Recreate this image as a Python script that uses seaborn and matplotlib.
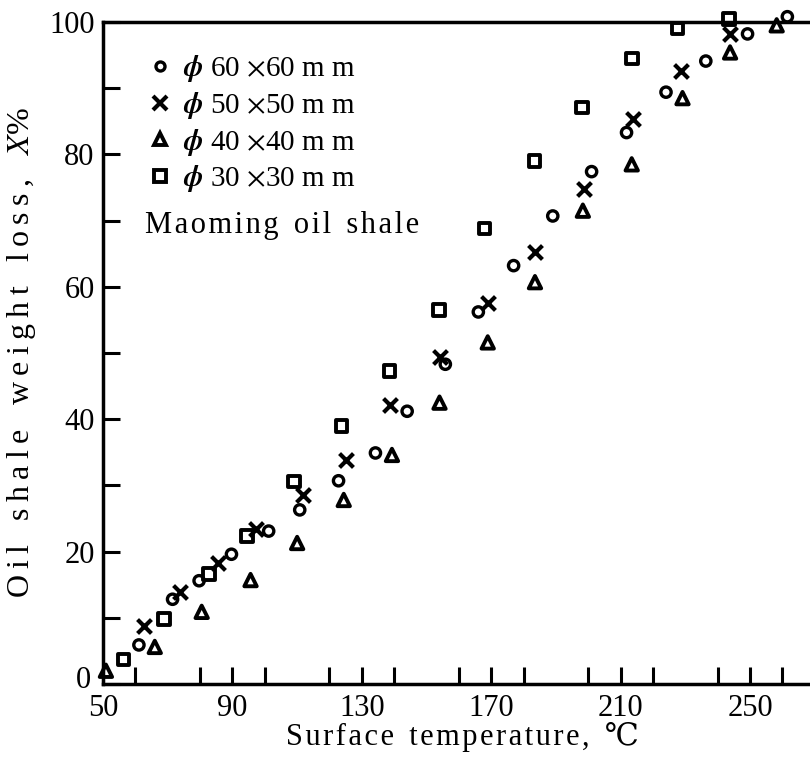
import numpy as np
import pandas as pd
import matplotlib
matplotlib.use("Agg")
import matplotlib.pyplot as plt
import matplotlib.transforms as mtrans
import seaborn as sns
from matplotlib.lines import Line2D
from matplotlib.ticker import MultipleLocator

# ---- data ----
x_60 = [61.1, 71.5, 79.7, 89.7, 101.2, 110.8, 122.8, 134.2, 144.0, 155.8, 166.0, 176.9, 189.0, 201.0, 211.8, 224.0, 236.3, 249.2, 261.5]
y_60 = [5.9, 12.8, 15.6, 19.6, 23.1, 26.3, 30.7, 34.9, 41.2, 48.3, 56.2, 63.2, 70.7, 77.4, 83.3, 89.4, 94.1, 98.2, 100.8]

x_50 = [62.7, 73.8, 85.6, 97.4, 111.8, 125.2, 138.6, 154.0, 168.9, 183.5, 198.5, 213.7, 228.6, 243.8]
y_50 = [8.8, 13.9, 18.3, 23.4, 28.6, 33.9, 42.1, 49.4, 57.5, 65.3, 74.7, 85.4, 92.6, 98.2]

x_40 = [50.9, 66.0, 80.5, 95.6, 110.0, 124.4, 139.3, 154.0, 168.9, 183.5, 198.3, 213.4, 229.1, 243.8, 258.2]
y_40 = [2.0, 5.6, 10.9, 15.7, 21.3, 27.8, 34.6, 42.5, 51.6, 60.7, 71.5, 78.5, 88.5, 95.4, 99.5]

x_30 = [56.3, 68.8, 82.8, 94.5, 109.0, 123.7, 138.6, 153.8, 167.9, 183.3, 198.0, 213.4, 227.6, 243.5]
y_30 = [3.7, 9.8, 16.6, 22.4, 30.6, 39.0, 47.3, 56.5, 68.8, 79.0, 87.1, 94.5, 99.0, 100.5]

series_labels = ["60", "50", "40", "30"]
x_ticks = [50, 90, 130, 170, 210, 250]
y_ticks = [0, 20, 40, 60, 80, 100]

sns.set_theme(style="ticks")
plt.rcParams["font.family"] = ["Liberation Serif", "DejaVu Serif"]
plt.rcParams["mathtext.fontset"] = "stix"
plt.rcParams["text.color"] = "black"
plt.rcParams["axes.labelcolor"] = "black"
plt.rcParams["xtick.color"] = "black"
plt.rcParams["ytick.color"] = "black"

fig = plt.figure(figsize=(8.10, 7.58), dpi=100)
ax = fig.add_axes([103 / 810, 1 - 684 / 758, 707 / 810, 662 / 758])

common = dict(ax=ax, clip_on=False, legend=False, zorder=5)
sns.scatterplot(x=x_60, y=y_60, marker="o", s=55, facecolor="none",
                edgecolor="black", linewidth=2.4, **common)
sns.scatterplot(x=x_50, y=y_50, marker="x", s=100, color="black",
                linewidth=3.0, **common)
sns.scatterplot(x=x_40, y=y_40, marker="^", s=80, facecolor="none",
                edgecolor="black", linewidth=2.8, **common)
sns.scatterplot(x=x_30, y=y_30, marker="s", s=70, facecolor="none",
                edgecolor="black", linewidth=2.8, **common)

ax.set_xlim(50, 268.5)
ax.set_ylim(0, 100)
ax.set_xticks(x_ticks)
ax.set_yticks(y_ticks)
ax.xaxis.set_minor_locator(MultipleLocator(20))
ax.yaxis.set_minor_locator(MultipleLocator(10))
ax.tick_params(which="both", direction="in", length=12, width=2.2,
               labelsize=22, color="black", labelcolor="black")
ax.tick_params(axis="x", pad=7)
ax.tick_params(axis="y", pad=6)
for side in ["left", "bottom", "top"]:
    ax.spines[side].set_linewidth(2.5)
    ax.spines[side].set_color("black")
ax.spines["right"].set_visible(False)

# nudge the "0" y tick label up/left so it clears the "50" x tick label
zero_lab = ax.get_yticklabels()[0]
zero_lab.set_transform(zero_lab.get_transform() +
                       mtrans.ScaledTranslation(-4 / 100, 7 / 100, fig.dpi_scale_trans))

def spaced(word, sp):
    return sp.join(word)

hs = "\u200a"
ts = "\u2009"
xlab = "  ".join(spaced(w, hs) for w in ["Surface", "temperature,"]) + "  ℃"
ylab = "   ".join(spaced(w, ts) for w in ["Oil", "shale", "weight", "loss,"]) + "   $X$%"
ax.set_xlabel(xlab, fontsize=22)
ax.set_ylabel(ylab, fontsize=23, labelpad=8)
ax.xaxis.set_label_coords((462 - 103) / 707, -(722 - 684) / 662)

handles = [
    Line2D([], [], ls="none", marker="o", ms=6.5, mfc="none", mec="black", mew=2.4),
    Line2D([], [], ls="none", marker="x", ms=10, color="black", mew=3.0),
    Line2D([], [], ls="none", marker="^", ms=9, mfc="none", mec="black", mew=2.8),
    Line2D([], [], ls="none", marker="s", ms=8, mfc="none", mec="black", mew=2.8),
]
labels = [r"$\boldsymbol{\phi}$ %s $\times$%s m m" % (s, s) for s in series_labels]
leg = ax.legend(handles, labels, loc="upper left", frameon=False,
                bbox_to_anchor=(148 / 810, 1 - 53 / 758), bbox_transform=fig.transFigure,
                fontsize=21, handlelength=0.8, handletextpad=0.4, labelspacing=0.2,
                borderaxespad=0, borderpad=0)

fig.text(145 / 810, 1 - 225 / 758, "  ".join(spaced(w, hs) for w in ["Maoming", "oil", "shale"]),
         fontsize=22, va="center", ha="left")

fig.savefig("out.png", dpi=100)
